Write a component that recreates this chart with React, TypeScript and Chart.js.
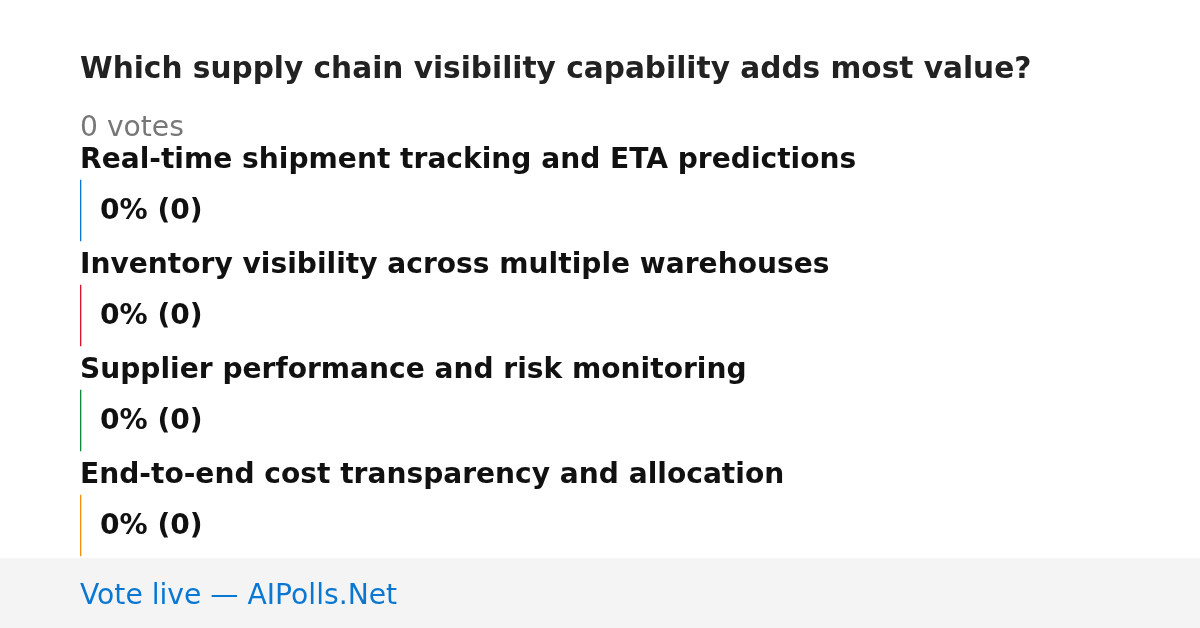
import React, { useEffect, useRef } from "react";
import { Chart, registerables } from "chart.js";

Chart.register(...registerables);

const title = "Which supply chain visibility capability adds most value?";
const totalVotesLabel = "0 votes";
const categories = [
  "Real-time shipment tracking and ETA predictions",
  "Inventory visibility across multiple warehouses",
  "Supplier performance and risk monitoring",
  "End-to-end cost transparency and allocation",
];
const voteCounts = [0, 0, 0, 0];
const percentages = [0, 0, 0, 0];
const barColors = ["#0a78d2", "#e0112b", "#0e8c3a", "#f5900a"];
const footerText = "Vote live — AIPolls.Net";

const FONT = "'DejaVu Sans', sans-serif";

const overlayPlugin = {
  id: "pollOverlay",
  beforeDraw(chart: any) {
    const ctx = chart.ctx;
    ctx.save();
    ctx.fillStyle = "#ffffff";
    ctx.fillRect(0, 0, chart.width, chart.height);
    ctx.fillStyle = "#f4f4f4";
    ctx.fillRect(0, 558, chart.width, chart.height - 558);
    ctx.textBaseline = "alphabetic";
    ctx.textAlign = "left";
    ctx.fillStyle = "#222222";
    ctx.font = `bold 29.6px ${FONT}`;
    ctx.fillText(title, 80, 78);
    ctx.fillStyle = "#777777";
    ctx.font = `28.2px ${FONT}`;
    ctx.fillText(totalVotesLabel, 80, 136);
    ctx.fillStyle = "#0a78d2";
    ctx.font = `28.2px ${FONT}`;
    ctx.fillText(footerText, 80, 604);
    ctx.restore();
  },
  afterDatasetsDraw(chart: any) {
    const ctx = chart.ctx;
    const meta = chart.getDatasetMeta(0);
    ctx.save();
    ctx.textBaseline = "alphabetic";
    ctx.textAlign = "left";
    meta.data.forEach((bar: any, i: number) => {
      const y = bar.y;
      ctx.fillStyle = "#111111";
      ctx.font = `bold 28.1px ${FONT}`;
      ctx.fillText(categories[i], 80, y - 42.5);
      ctx.fillText(`${percentages[i]}% (${voteCounts[i]})`, 100, y + 8);
    });
    ctx.restore();
  },
};

export default function App() {
  const ref = useRef<HTMLCanvasElement>(null);
  useEffect(() => {
    if (!ref.current) return;
    const chart = new Chart(ref.current, {
      type: "bar",
      data: {
        labels: categories,
        datasets: [
          {
            data: voteCounts,
            backgroundColor: barColors,
            borderWidth: 0,
            barThickness: 61,
            minBarLength: 1,
          },
        ],
      },
      options: {
        indexAxis: "y",
        responsive: false,
        animation: false,
        layout: { padding: { left: 80, right: 80, top: 158, bottom: 50 } },
        scales: {
          x: { display: false, min: 0, max: 100 },
          y: { display: false },
        },
        plugins: {
          legend: { display: false },
          tooltip: { enabled: false },
          title: { display: false },
        },
      },
      plugins: [overlayPlugin],
    });
    return () => chart.destroy();
  }, []);
  return (
    <div style={{ position: "fixed", left: 0, top: 0, width: 1200, height: 628 }}>
      <canvas ref={ref} width={1200} height={628} style={{ width: 1200, height: 628 }} />
    </div>
  );
}
